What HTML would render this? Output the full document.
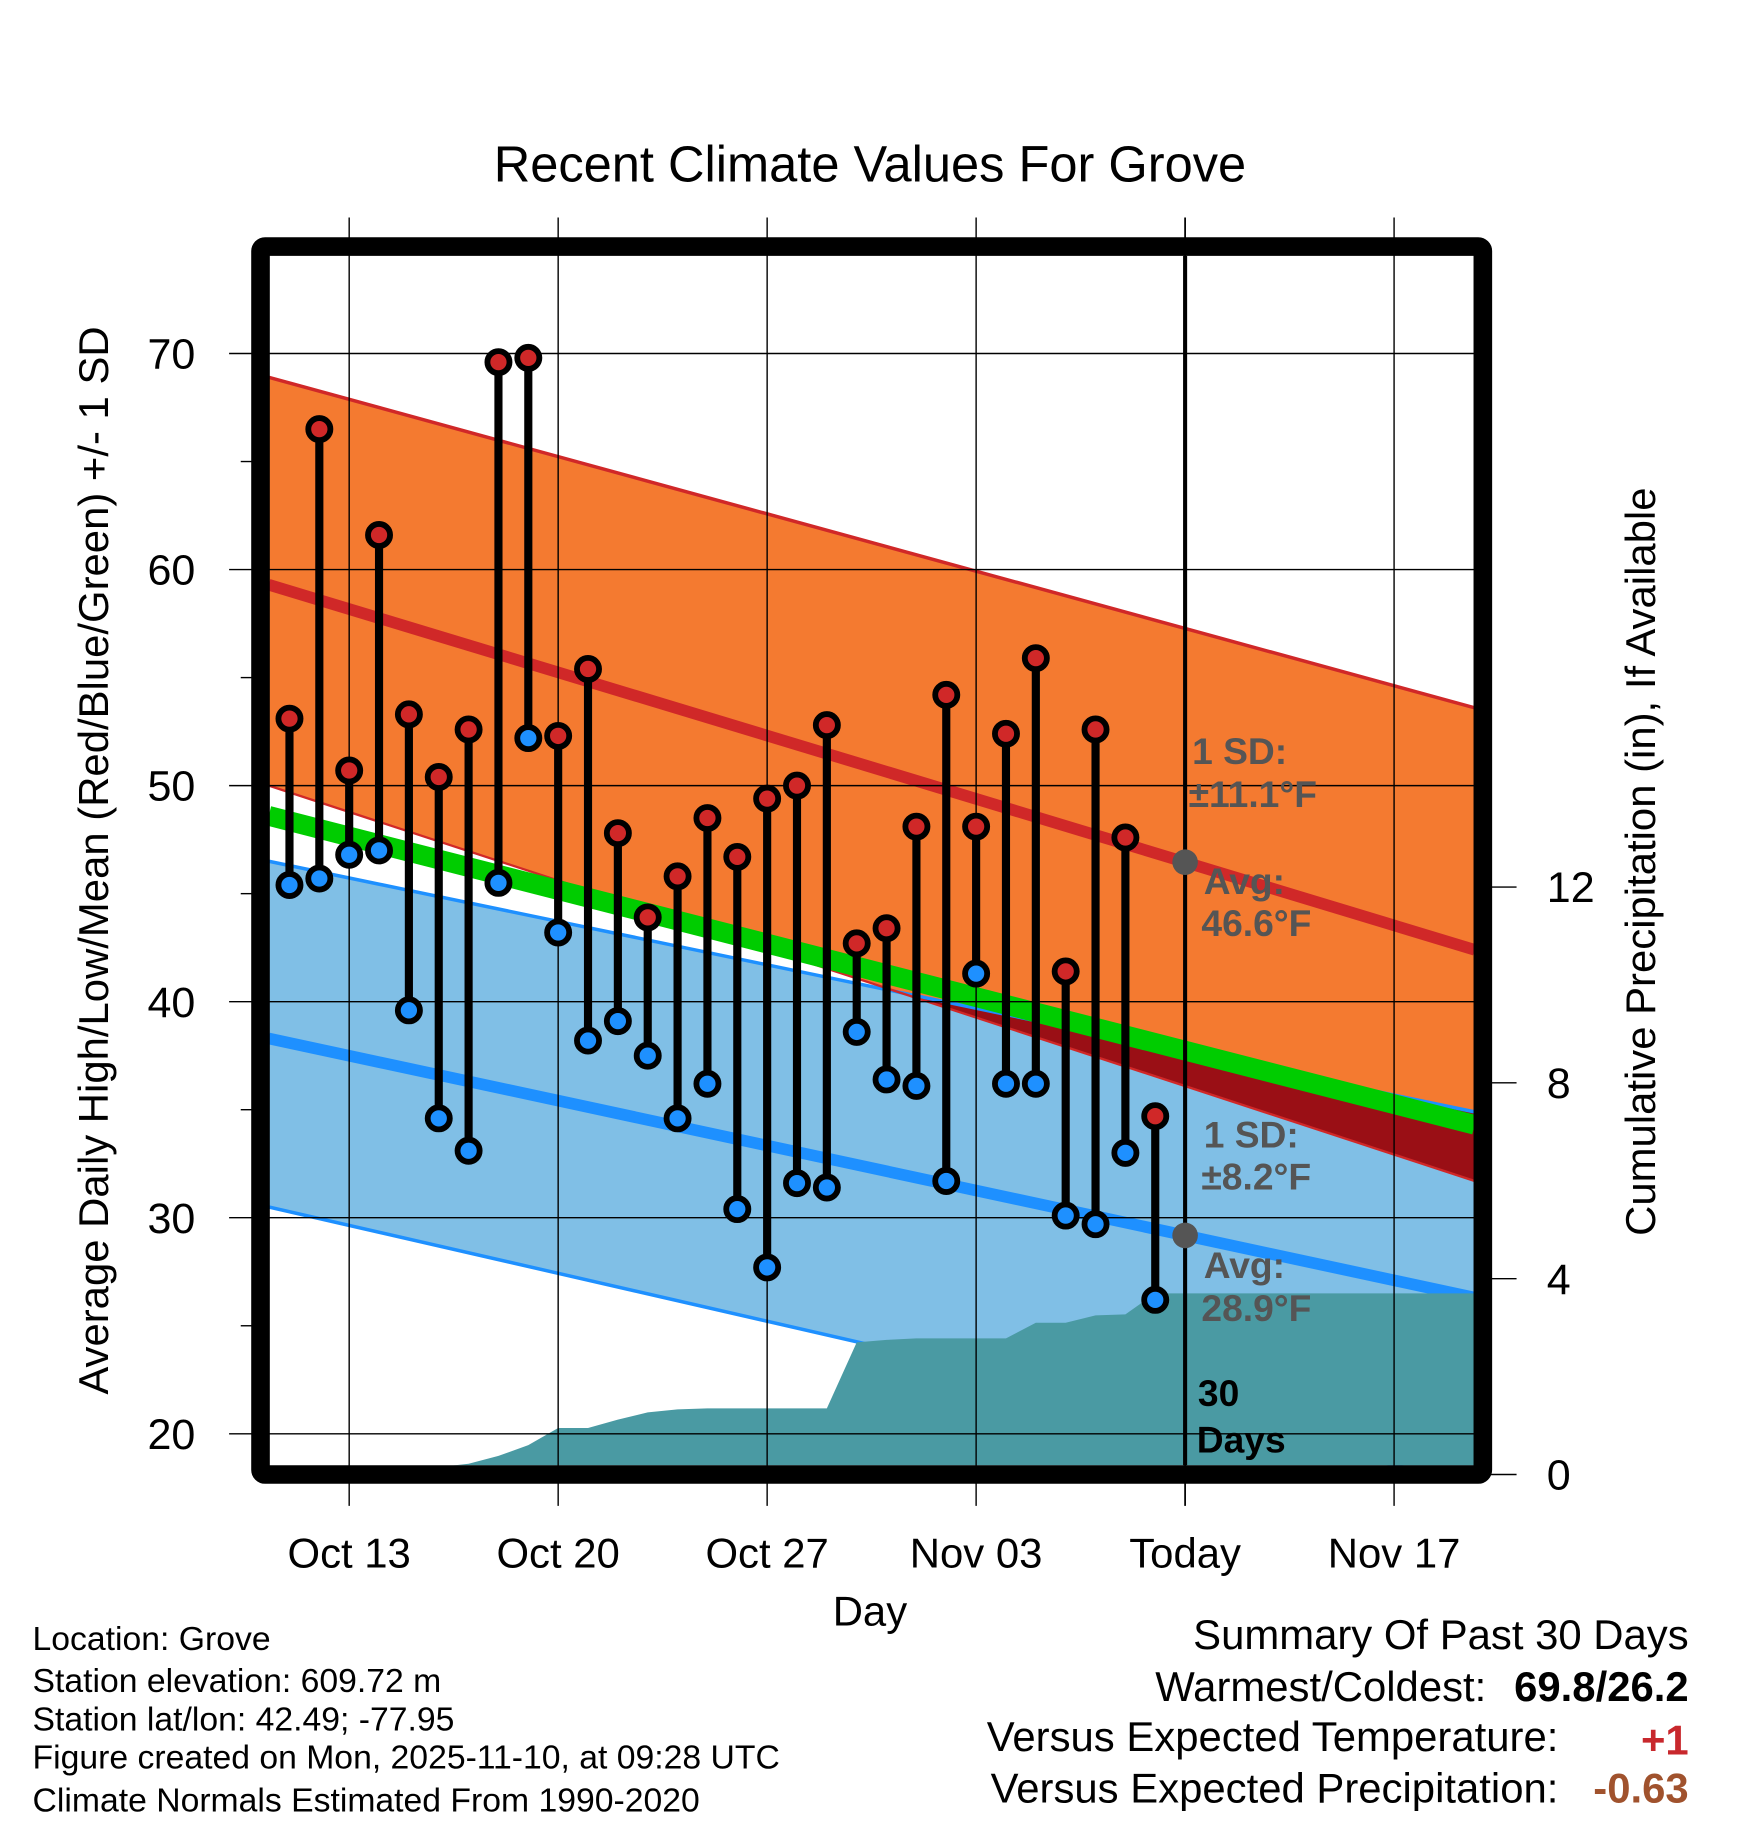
<!DOCTYPE html>
<html><head><meta charset="utf-8"><style>
html,body{margin:0;padding:0;background:#fff;}
svg{display:block;font-family:"Liberation Sans",sans-serif;}
</style></head><body>
<svg id="chart" width="1748" height="1828" viewBox="0 0 1503 1572" preserveAspectRatio="none" xmlns="http://www.w3.org/2000/svg">
<text x="748" y="156" font-size="43.5" text-anchor="middle">Recent Climate Values For Grove</text>
<g id="plot"></g>
<text transform="translate(93,740) rotate(-90)" font-size="36" text-anchor="middle">Average Daily High/Low/Mean (Red/Blue/Green) +/- 1 SD</text>
<text transform="translate(1423,741) rotate(-90)" font-size="36" text-anchor="middle">Cumulative Precipitation (in), If Available</text>
<text x="748" y="1398" font-size="36" text-anchor="middle">Day</text>
<g font-size="29">
<text x="28" y="1419">Location: Grove</text>
<text x="28" y="1455">Station elevation: 609.72 m</text>
<text x="28" y="1488">Station lat/lon: 42.49; -77.95</text>
<text x="28" y="1521">Figure created on Mon, 2025-11-10, at 09:28 UTC</text>
<text x="28" y="1558">Climate Normals Estimated From 1990-2020</text>
</g>
<g font-size="36">
<text x="1452" y="1418" text-anchor="end">Summary Of Past 30 Days</text>
<text x="1278" y="1463" text-anchor="end">Warmest/Coldest:</text>
<text x="1452" y="1463" text-anchor="end" font-weight="bold">69.8/26.2</text>
<text x="1340" y="1506" text-anchor="end">Versus Expected Temperature:</text>
<text x="1452" y="1509" text-anchor="end" font-weight="bold" fill="#c8282d">+1</text>
<text x="1340" y="1550" text-anchor="end">Versus Expected Precipitation:</text>
<text x="1452" y="1550" text-anchor="end" font-weight="bold" fill="#a0522d">-0.63</text>
</g>
</svg>
<script>
// Data (days relative to Nov 10 = 0)
const highs = [53.1,66.5,50.7,61.6,53.3,50.4,52.6,69.6,69.8,52.3,55.4,47.8,43.9,45.8,48.5,46.7,49.4,50.0,52.8,42.7,43.4,48.1,54.2,48.1,52.4,55.9,41.4,52.6,47.6,34.7];
const lows = [45.4,45.7,46.8,47.0,39.6,34.6,33.1,45.5,52.2,43.2,38.2,39.1,37.5,34.6,36.2,30.4,27.7,31.6,31.4,38.6,36.4,36.1,31.7,41.3,36.2,36.2,30.1,29.7,33.0,26.2];
const precip = [0,0,0,0,0,0.15,0.22,0.38,0.6,0.95,0.95,1.12,1.27,1.33,1.35,1.35,1.35,1.35,1.35,2.7,2.75,2.78,2.78,2.78,2.78,3.1,3.1,3.25,3.27,3.7];
const xTickDays = [-28,-21,-14,-7,0,7];
const xTickLabels = ["Oct 13","Oct 20","Oct 27","Nov 03","Today","Nov 17"];
const yTicks = [20,30,40,50,60,70];
const y2Ticks = [0,4,8,12];
// normals at left edge / right edge of plot
const normHighAvg = [59.3,42.4];
const normHighUp = [68.9,53.6];
const normHighLo = [50.0,31.7];
const normLowAvg = [38.3,26.3];
const normLowUp = [46.5,34.9];
const normLowLo = [30.5,17.7];
const normMean = [48.6,34.3];

const NS="http://www.w3.org/2000/svg";
const g=document.getElementById('plot');
const L=231,R=1268,T=220,B=1260;
const X=d=>1019+d*25.67;
const Y=t=>1233-(t-20)*18.58;
const Y2=p=>1268-p*42.1;
const dL=(L-1019)/25.67, dR=(R-1019)/25.67;
function el(tag,attrs,parent){const e=document.createElementNS(NS,tag);for(const k in attrs)e.setAttribute(k,attrs[k]);(parent||g).appendChild(e);return e;}
function lerp(a,d){return a[0]+(a[1]-a[0])*(d-dL)/(dR-dL);}
function band(up,lo,fill,name){
  const e=el('polygon',{points:`${L},${Y(up[0])} ${R},${Y(up[1])} ${R},${Y(lo[1])} ${L},${Y(lo[0])}`,fill:fill});
  
  
  return e;
}
const clip=el('clipPath',{id:'pc'});el('rect',{x:L,y:T,width:R-L,height:B-T},clip);
const pg=el('g',{'clip-path':'url(#pc)'});
[[normLowUp,normLowLo,'#80bfe6','low-sd-band'],[normHighUp,normHighLo,'#f47a30','high-sd-band']].forEach(b=>{
  const e=band(b[0],b[1],b[2],b[3]);pg.appendChild(e);
});
(function(){
  const pts=[];
  for(let i=0;i<=200;i++){const d=dL+(dR-dL)*i/200;const a=lerp(normHighLo,d),b=lerp(normLowUp,d);if(a<b)pts.push([d,a,b]);}
  if(pts.length){let s=pts.map(p=>`${X(p[0])},${Y(p[2])}`).join(' ')+' '+pts.slice().reverse().map(p=>`${X(p[0])},${Y(p[1])}`).join(' ');
  const e=el('polygon',{points:s,fill:'#9a0f15'},pg);
  
  }
})();
[[normHighUp,'#d02828',3,'high-upper-sd-line'],[normLowUp,'#1e90ff',3,'low-upper-sd-line'],[normLowLo,'#1e90ff',3,'low-lower-sd-line'],[normHighLo,'#d02828',2,'high-lower-sd-line'],[normMean,'#00cc00',17,'mean-line'],[normHighAvg,'#d02828',10,'high-avg-line'],[normLowAvg,'#1e90ff',10,'low-avg-line']].forEach(a=>{
  const e=el('line',{x1:L,y1:Y(a[0][0]),x2:R,y2:Y(a[0][1]),stroke:a[1],'stroke-width':a[2]},pg);
  
  
});
(function(){
  let s=`${X(-30)},${B+5} `;
  precip.forEach((p,i)=>{s+=`${X(i-30)},${Y2(p)} `;});
  s+=`${R},${Y2(precip[precip.length-1])} ${R},${B+5}`;
  const e=el('polygon',{points:s,fill:'#4a9aa3'},pg);
  
  
})();
xTickDays.forEach((d,i)=>{
  const e=el('line',{x1:X(d),y1:187,x2:X(d),y2:1295,stroke:'#000','stroke-width':d===0?1.5:1.2});
  
  
  const t=el('text',{x:X(d),y:1348,'font-size':36,'text-anchor':'middle'});t.textContent=xTickLabels[i];
  
  
});
yTicks.forEach(v=>{
  const e=el('line',{x1:197,y1:Y(v),x2:R,y2:Y(v),stroke:'#000','stroke-width':1.2});
  
  
  const t=el('text',{x:168,y:Y(v)+13,'font-size':37,'text-anchor':'end'});t.textContent=v;
  
  
  if(v<70){const m=el('line',{x1:207,y1:Y(v+5),x2:217,y2:Y(v+5),stroke:'#000','stroke-width':1.2});
  
  }
});
y2Ticks.forEach(v=>{
  const e=el('line',{x1:1275,y1:Y2(v),x2:1304,y2:Y2(v),stroke:'#000','stroke-width':1.2});
  
  
  const t=el('text',{x:1330,y:Y2(v)+13,'font-size':37});t.textContent=v;
  
  
});
(function(){const e=el('line',{x1:X(0),y1:T,x2:X(0),y2:B,stroke:'#000','stroke-width':3.5});

})();
[[normHighAvg],[normLowAvg]].forEach((a,i)=>{
  const c=el('circle',{cx:X(0),cy:Y(lerp(a[0],0)),r:11,fill:'#555'});
  
  
});
highs.forEach((h,i)=>{
  const x=X(i-30);
  const s=el('line',{x1:x,y1:Y(h),x2:x,y2:Y(lows[i]),stroke:'#000','stroke-width':7});
  
  
});
highs.forEach((h,i)=>{
  const x=X(i-30);
  const a=el('circle',{cx:x,cy:Y(h),r:9.5,fill:'#d02828',stroke:'#000','stroke-width':5});
  
  
  const b=el('circle',{cx:x,cy:Y(lows[i]),r:9.5,fill:'#1e90ff',stroke:'#000','stroke-width':5});
  
  
});
[['1 SD:',1025,657,'#555'],['±11.1°F',1022,694,'#555'],['Avg:',1035,769,'#555'],['46.6°F',1033,805,'#555'],['1 SD:',1035,987,'#555'],['±8.2°F',1033,1023,'#555'],['Avg:',1035,1099,'#555'],['28.9°F',1033,1136,'#555'],['30',1030,1209,'#000'],['Days',1029,1249,'#000']].forEach(a=>{
  const t=el('text',{x:a[1],y:a[2],'font-size':32,'font-weight':'bold',fill:a[3]});t.textContent=a[0];
  
  
});
(function(){const f=el('rect',{x:224,y:212,width:1051,height:1056,fill:'none',stroke:'#000','stroke-width':16,rx:4});

})();
</script>
</body></html>
